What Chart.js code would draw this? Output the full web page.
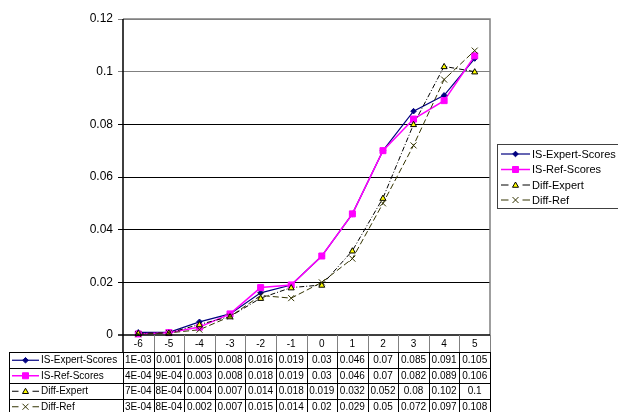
<!DOCTYPE html>
<html>
<head>
<meta charset="utf-8">
<script src="https://cdn.jsdelivr.net/npm/chart.js"></script>
<style>
html,body{margin:0;padding:0;background:#fff;}
#c{display:block;}
</style>
</head>
<body>
<canvas id="c" width="618" height="412" style="width:618px;height:412px"></canvas>
<script>
const categories = ['-6','-5','-4','-3','-2','-1','0','1','2','3','4','5'];
const seriesNames = ['IS-Expert-Scores','IS-Ref-Scores','Diff-Expert','Diff-Ref'];
const expertScores = [0.001,0.001,0.005,0.008,0.016,0.019,0.03,0.046,0.07,0.085,0.091,0.105];
const refScores    = [0.0004,0.0009,0.003,0.008,0.018,0.019,0.03,0.046,0.07,0.082,0.089,0.106];
const diffExpert   = [0.0007,0.0008,0.004,0.007,0.014,0.018,0.019,0.032,0.052,0.08,0.102,0.1];
const diffRef      = [0.0003,0.0008,0.002,0.007,0.015,0.014,0.02,0.029,0.05,0.072,0.097,0.108];
const expertText = ['1E-03','0.001','0.005','0.008','0.016','0.019','0.03','0.046','0.07','0.085','0.091','0.105'];
const refText    = ['4E-04','9E-04','0.003','0.008','0.018','0.019','0.03','0.046','0.07','0.082','0.089','0.106'];
const diffExpText= ['7E-04','8E-04','0.004','0.007','0.014','0.018','0.019','0.032','0.052','0.08','0.102','0.1'];
const diffRefText= ['3E-04','8E-04','0.002','0.007','0.015','0.014','0.02','0.029','0.05','0.072','0.097','0.108'];
const yTicks = ['0','0.02','0.04','0.06','0.08','0.1','0.12'];

const FONT = 'Liberation Sans, Arial, sans-serif';

const styles = [
  {color:'#000080', dash:[], point:'rectRot', r:2.8, fill:'#000080', width:1.2},
  {color:'#FF00FF', dash:[], point:'rect', r:3, fill:'#FF00FF', width:1.5},
  {color:'#000000', dash:[5,2,1,2], point:'triangle', r:3, fill:'#FFFF00', width:1},
  {color:'#333300', dash:[6,3], point:'crossRot', r:3, fill:'#333300', width:1}
];
const allData = [expertScores, refScores, diffExpert, diffRef];
const allText = [expertText, refText, diffExpText, diffRefText];

function drawMarker(ctx, st, x, y) {
  ctx.save();
  ctx.setLineDash([]);
  ctx.lineWidth = 1;
  ctx.strokeStyle = st.point==='triangle' ? '#000000' : st.color;
  ctx.fillStyle = st.fill;
  const r = st.r;
  ctx.beginPath();
  if (st.point === 'rectRot') {
    ctx.moveTo(x, y-r); ctx.lineTo(x+r, y); ctx.lineTo(x, y+r); ctx.lineTo(x-r, y); ctx.closePath();
    ctx.fill(); ctx.stroke();
  } else if (st.point === 'rect') {
    ctx.rect(x-r, y-r, 2*r, 2*r); ctx.fill(); ctx.stroke();
  } else if (st.point === 'triangle') {
    ctx.moveTo(x, y-r); ctx.lineTo(x+r, y+r*0.75); ctx.lineTo(x-r, y+r*0.75); ctx.closePath();
    ctx.fill(); ctx.stroke();
  } else {
    ctx.moveTo(x-r, y-r); ctx.lineTo(x+r, y+r); ctx.moveTo(x+r, y-r); ctx.lineTo(x-r, y+r);
    ctx.stroke();
  }
  ctx.restore();
}
function drawKey(ctx, st, x1, x2, y) {
  ctx.save();
  ctx.strokeStyle = st.color;
  ctx.lineWidth = st.width;
  if (st.dash.length) {
    const m = (x1+x2)/2;
    ctx.setLineDash([]);
    ctx.beginPath();
    ctx.moveTo(x1, y); ctx.lineTo(m-7, y);
    ctx.moveTo(m+7, y); ctx.lineTo(x2, y);
    ctx.stroke();
  } else {
    ctx.beginPath(); ctx.moveTo(x1, y); ctx.lineTo(x2, y); ctx.stroke();
  }
  ctx.restore();
  drawMarker(ctx, st, (x1+x2)/2, y);
}

const extras = {
  id: 'extras',
  afterDatasetsDraw(chart) {
    const ctx = chart.ctx;
    chart.data.datasets.forEach((ds, i) => {
      const meta = chart.getDatasetMeta(i);
      meta.data.forEach(pt => drawMarker(ctx, styles[i], pt.x, pt.y));
    });
  },
  afterDraw(chart) {
    const ctx = chart.ctx;
    const a = chart.chartArea;
    const xs = chart.scales.x;
    const half = (xs.getPixelForValue(1) - xs.getPixelForValue(0)) / 2;
    ctx.save();
    ctx.strokeStyle = '#808080';
    ctx.lineWidth = 1.5;
    ctx.beginPath();
    ctx.moveTo(a.left, a.top); ctx.lineTo(a.right, a.top); ctx.lineTo(a.right, a.bottom);
    ctx.stroke();
    ctx.strokeStyle = '#000';
    ctx.lineWidth = 1.5;
    ctx.beginPath();
    ctx.moveTo(a.left, a.top); ctx.lineTo(a.left, a.bottom + 17);
    ctx.moveTo(a.left - 5, a.bottom); ctx.lineTo(a.right, a.bottom);
    ctx.stroke();

    const x0 = 9.5;
    const headBottom = a.bottom + 17;
    const rowH = 15.5;
    const tableBottom = headBottom + rowH * 4;
    ctx.lineWidth = 1;
    ctx.strokeStyle = '#808080';
    ctx.beginPath();
    for (let i = 1; i <= categories.length; i++) {
      const bx = Math.round(xs.getPixelForValue(i - 1) + half) + 0.5;
      ctx.moveTo(bx, a.bottom); ctx.lineTo(bx, headBottom);
    }
    ctx.stroke();
    ctx.strokeStyle = '#000';
    ctx.beginPath();
    for (let r = 0; r <= 4; r++) {
      const y = Math.round(headBottom + r * rowH) + 0.5;
      ctx.moveTo(x0, y); ctx.lineTo(a.right, y);
    }
    ctx.moveTo(x0, headBottom); ctx.lineTo(x0, tableBottom);
    ctx.moveTo(Math.round(a.left)+0.5, headBottom); ctx.lineTo(Math.round(a.left)+0.5, tableBottom);
    for (let i = 1; i <= categories.length; i++) {
      const bx = Math.round(xs.getPixelForValue(i - 1) + half) + 0.5;
      ctx.moveTo(bx, headBottom); ctx.lineTo(bx, tableBottom);
    }
    ctx.stroke();
    ctx.fillStyle = '#000';
    ctx.font = '10px ' + FONT;
    ctx.textBaseline = 'middle';
    for (let r = 0; r < 4; r++) {
      const cy = headBottom + r * rowH + rowH / 2 + 0.5;
      drawKey(ctx, styles[r], 12, 39, cy);
      ctx.fillStyle = '#000';
      ctx.textAlign = 'left';
      ctx.fillText(seriesNames[r], 41, cy);
      ctx.textAlign = 'center';
      allText[r].forEach((t, i) => ctx.fillText(t, xs.getPixelForValue(i), cy));
    }

    const lx = 497, ly = 144, lw = 122, lh = 64;
    ctx.strokeStyle = '#404040';
    ctx.lineWidth = 1;
    ctx.strokeRect(lx + 0.5, ly + 0.5, lw, lh);
    ctx.font = '11px ' + FONT;
    ctx.textAlign = 'left';
    const ly0 = [154, 169.5, 185, 200];
    for (let r = 0; r < 4; r++) {
      drawKey(ctx, styles[r], 501, 530, ly0[r]);
      ctx.fillStyle = '#000';
      ctx.fillText(seriesNames[r], 532, ly0[r] + 0.5);
    }
    ctx.restore();
  }
};

new Chart(document.getElementById('c'), {
  type: 'line',
  data: {
    labels: categories,
    datasets: allData.map((d, i) => ({
      label: seriesNames[i],
      data: d,
      borderColor: styles[i].color,
      borderWidth: styles[i].width,
      borderDash: styles[i].dash,
      pointRadius: 0,
      tension: 0,
      fill: false,
      order: 4 - i
    }))
  },
  options: {
    responsive: false,
    animation: false,
    devicePixelRatio: 1,
    layout: {padding: {top: 19, right: 128, left: 0, bottom: 0}},
    plugins: {legend: {display: false}, tooltip: {enabled: false}},
    scales: {
      y: {
        min: 0, max: 0.12,
        ticks: {
          stepSize: 0.02, color: '#000', padding: 5,
          font: {family: FONT, size: 12},
          callback: (v, i) => yTicks[i]
        },
        grid: {
          tickLength: 5,
          lineWidth: 1,
          color: c => {
            const v = Math.round(c.tick.value * 100);
            if (v === 0) return 'rgba(0,0,0,0)';
            if (v >= 10) return '#808080';
            return '#000000';
          }
        },
        border: {display: false},
        afterFit: s => { s.width = 123; }
      },
      x: {
        offset: true,
        ticks: {color: '#000', padding: 3, font: {family: FONT, size: 10}, maxRotation: 0, autoSkip: false},
        grid: {display: false, drawTicks: false},
        border: {display: false},
        afterFit: s => { s.height = 77; }
      }
    }
  },
  plugins: [extras]
});
</script>
</body>
</html>
